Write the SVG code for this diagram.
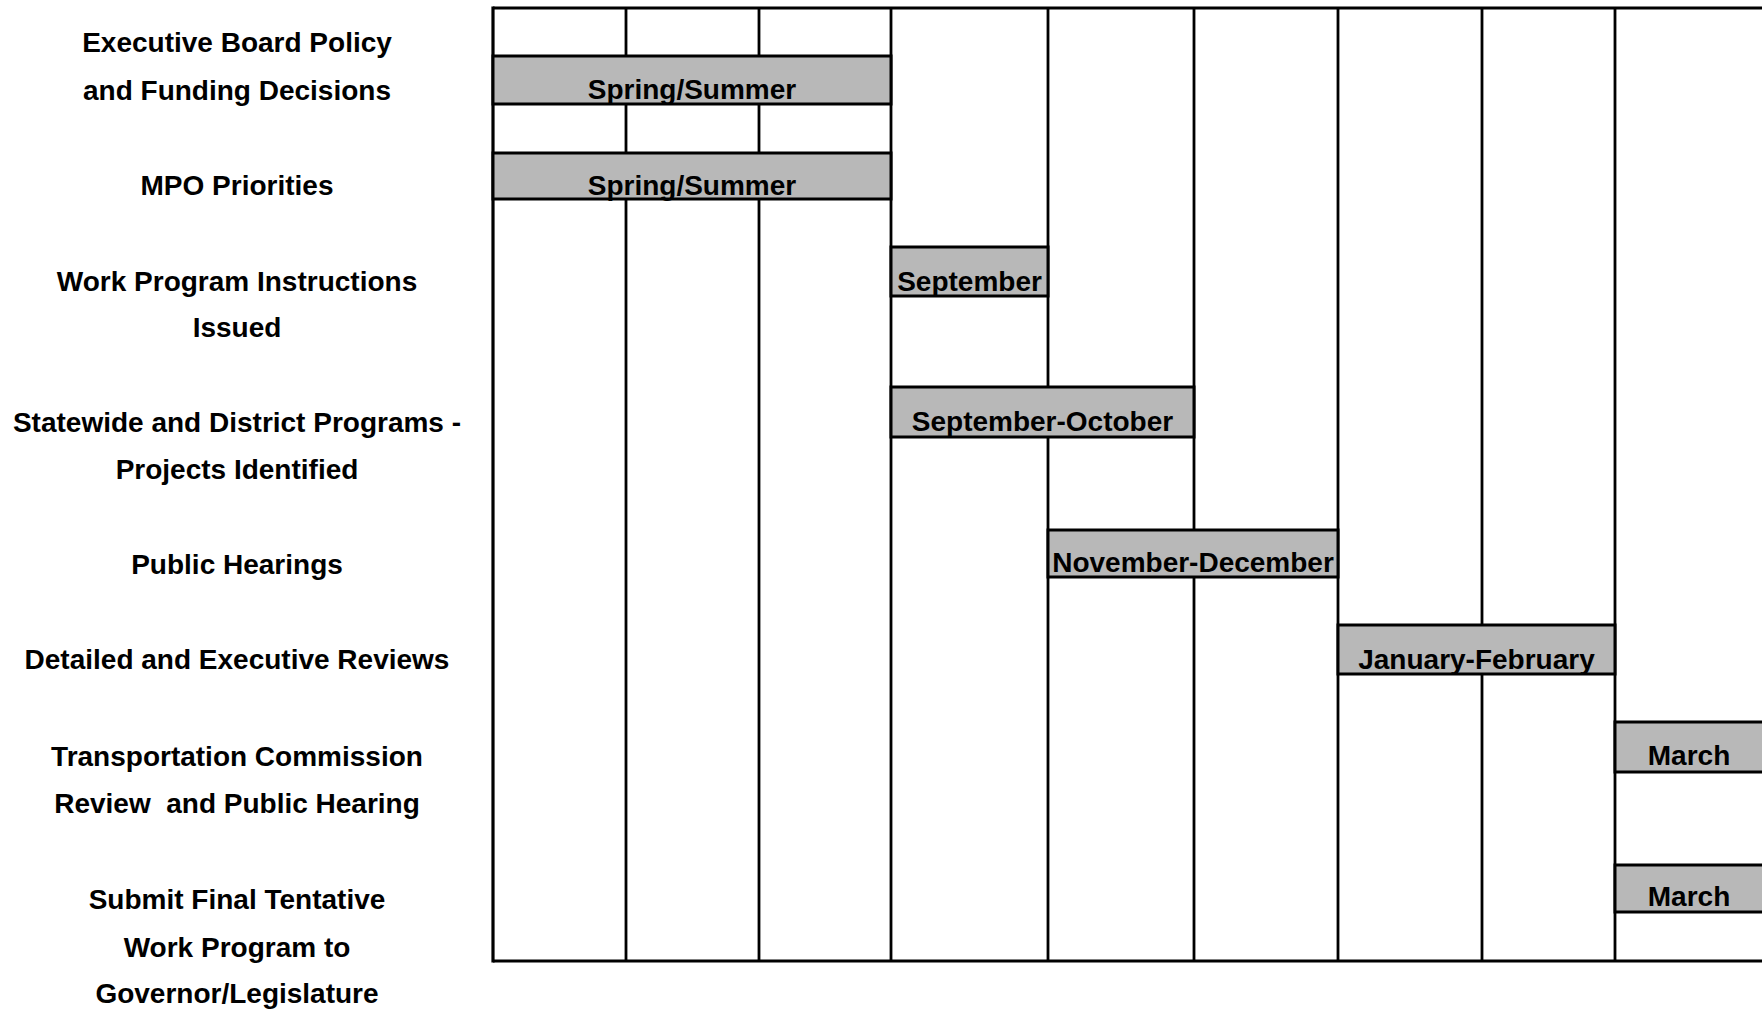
<svg xmlns="http://www.w3.org/2000/svg" width="1762" height="1009" viewBox="0 0 1762 1009">
<style>
.lbl{font-family:"Liberation Sans",Arial,sans-serif;font-weight:bold;font-size:28px;fill:#000;text-anchor:middle}
.bar{fill:#b8b8b8;stroke:#000;stroke-width:3}
.grid{stroke:#000;stroke-width:2.8;fill:none}
.frame{stroke:#000;stroke-width:3.2;fill:none}
</style>
<rect width="1762" height="1009" fill="#fff"/>
<g id="grid">
<line class="frame" x1="493" y1="8" x2="1764" y2="8"/>
<line class="frame" x1="493" y1="961" x2="1764" y2="961"/>
<line class="frame" x1="493" y1="6.4" x2="493" y2="962.6"/>
<line class="grid" x1="626" y1="8" x2="626" y2="961"/>
<line class="grid" x1="759" y1="8" x2="759" y2="961"/>
<line class="grid" x1="891" y1="8" x2="891" y2="961"/>
<line class="grid" x1="1048" y1="8" x2="1048" y2="961"/>
<line class="grid" x1="1194" y1="8" x2="1194" y2="961"/>
<line class="grid" x1="1338" y1="8" x2="1338" y2="961"/>
<line class="grid" x1="1482" y1="8" x2="1482" y2="961"/>
<line class="grid" x1="1615" y1="8" x2="1615" y2="961"/>
</g>
<g id="row1">
<text class="lbl" x="237" y="52">Executive Board Policy</text>
<text class="lbl" x="237" y="100">and Funding Decisions</text>
<rect class="bar" x="493" y="56" width="398" height="48"/>
<text class="lbl" x="692" y="99">Spring/Summer</text>
</g>
<g id="row2">
<text class="lbl" x="237" y="195">MPO Priorities</text>
<rect class="bar" x="493" y="153" width="398" height="46"/>
<text class="lbl" x="692" y="195">Spring/Summer</text>
</g>
<g id="row3">
<text class="lbl" x="237" y="291">Work Program Instructions</text>
<text class="lbl" x="237" y="337">Issued</text>
<rect class="bar" x="891" y="247" width="157" height="49"/>
<text class="lbl" x="969.5" y="291">September</text>
</g>
<g id="row4">
<text class="lbl" x="237" y="432">Statewide and District Programs -</text>
<text class="lbl" x="237" y="479">Projects Identified</text>
<rect class="bar" x="891" y="387" width="303" height="50"/>
<text class="lbl" x="1042.5" y="431">September-October</text>
</g>
<g id="row5">
<text class="lbl" x="237" y="574">Public Hearings</text>
<rect class="bar" x="1048" y="530" width="290" height="47"/>
<text class="lbl" x="1193" y="572">November-December</text>
</g>
<g id="row6">
<text class="lbl" x="237" y="669">Detailed and Executive Reviews</text>
<rect class="bar" x="1338" y="625" width="277" height="49"/>
<text class="lbl" x="1476.5" y="669">January-February</text>
</g>
<g id="row7">
<text class="lbl" x="237" y="766">Transportation Commission</text>
<text class="lbl" x="237" y="813" xml:space="preserve">Review  and Public Hearing</text>
<rect class="bar" x="1615" y="722" width="150" height="50"/>
<text class="lbl" x="1689" y="765">March</text>
</g>
<g id="row8">
<text class="lbl" x="237" y="909">Submit Final Tentative</text>
<text class="lbl" x="237" y="957">Work Program to</text>
<text class="lbl" x="237" y="1003">Governor/Legislature</text>
<rect class="bar" x="1615" y="865" width="150" height="47"/>
<text class="lbl" x="1689" y="906">March</text>
</g>
</svg>
